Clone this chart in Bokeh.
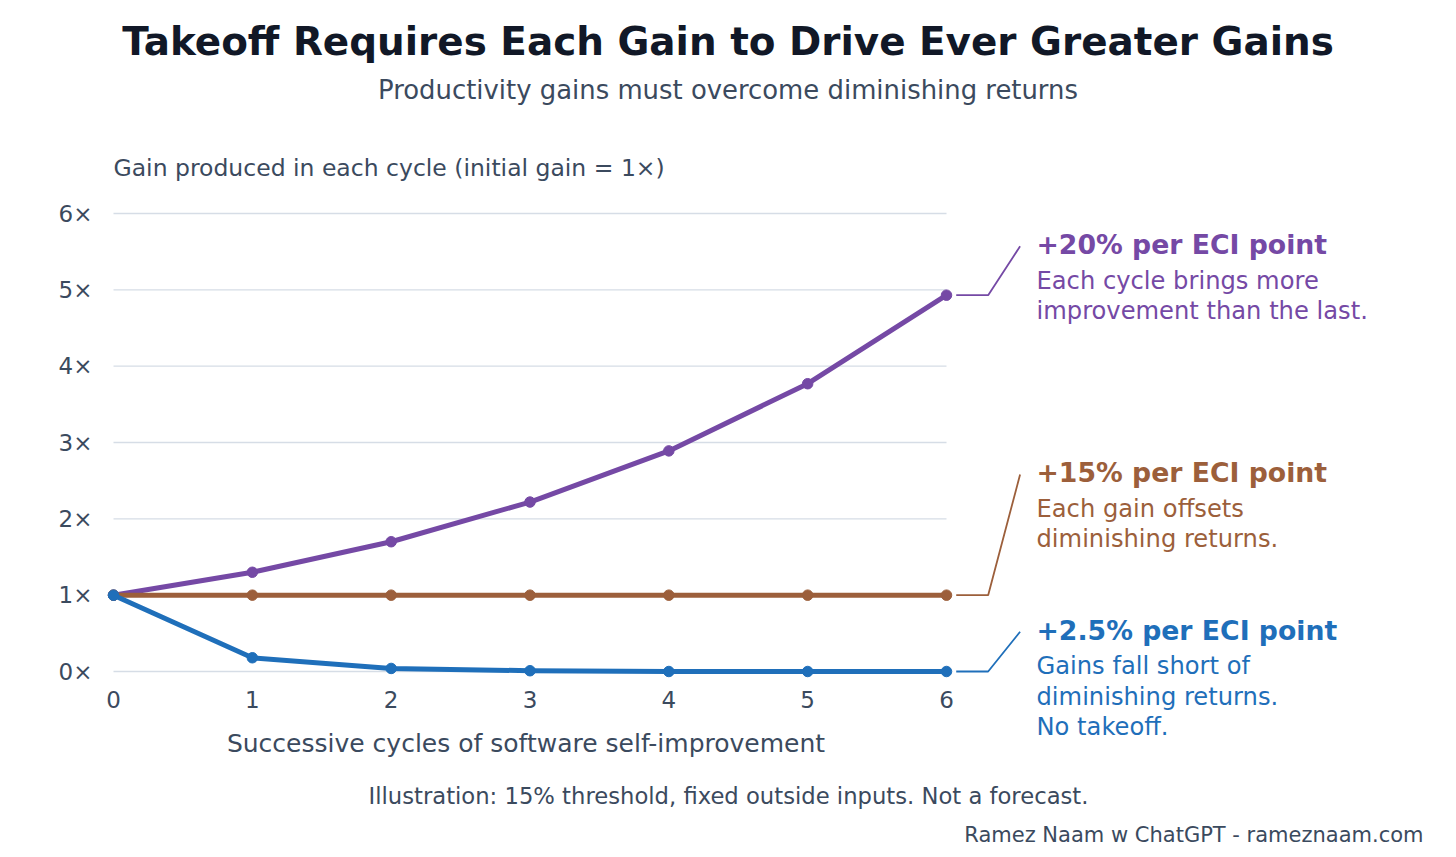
from bokeh.plotting import figure
from bokeh.models import Range1d, FixedTicker, Label, CustomJSTickFormatter
from bokeh.embed import file_html
from bokeh.resources import INLINE

# ---- data ----
cycles = [0, 1, 2, 3, 4, 5, 6]
gain_20 = [1.0, 1.30, 1.70, 2.22, 2.89, 3.77, 4.93]
gain_15 = [1.0, 1.0, 1.0, 1.0, 1.0, 1.0, 1.0]
gain_25 = [1.0, 0.18, 0.04, 0.01, 0.0, 0.0, 0.0]
y_ticks = [0, 1, 2, 3, 4, 5, 6]
x_ticks = [0, 1, 2, 3, 4, 5, 6]

title_text = "Takeoff Requires Each Gain to Drive Ever Greater Gains"
subtitle_text = "Productivity gains must overcome diminishing returns"
ylabel_text = "Gain produced in each cycle (initial gain = 1×)"
xlabel_text = "Successive cycles of software self-improvement"
note_text = "Illustration: 15% threshold, fixed outside inputs. Not a forecast."
credit_text = "Ramez Naam w ChatGPT - rameznaam.com"

series_names = ["+20% per ECI point", "+15% per ECI point", "+2.5% per ECI point"]
series_notes = [
    ["Each cycle brings more", "improvement than the last."],
    ["Each gain offsets", "diminishing returns."],
    ["Gains fall short of", "diminishing returns.", "No takeoff."],
]
series_values = [gain_20, gain_15, gain_25]
series_colors = ["#7549A5", "#9C5F3B", "#1F6FBA"]
label_y = [5.57, 2.58, 0.52]   # where each leader line ends (data units)

FONT = "DejaVu Sans"
TXT = "#3b4a5e"

W, H = 1456, 857
# pixel mapping: x=0 -> 113px, y=0 -> 671px from top
PX_X = 833 / 6
PX_Y = 458 / 6
x0_px, y0_px = 113, 671
SHIFT = 0.36  # baseline correction, fraction of font size

p = figure(width=W, height=H, output_backend="svg", toolbar_location=None,
           x_range=Range1d(-x0_px / PX_X, (W - x0_px) / PX_X),
           y_range=Range1d(-(H - y0_px) / PX_Y, y0_px / PX_Y),
           min_border=0, min_border_left=0, min_border_right=0,
           min_border_top=0, min_border_bottom=0)
p.outline_line_color = None
p.background_fill_color = "white"
p.border_fill_color = "white"
p.xgrid.visible = False
p.ygrid.visible = False

# axes
for ax in (p.xaxis[0], p.yaxis[0]):
    ax.axis_line_color = None
    ax.major_tick_line_color = None
    ax.minor_tick_line_color = None
    ax.major_tick_out = 0
    ax.major_tick_in = 0
    ax.major_label_text_font = FONT
    ax.major_label_text_font_size = "23px"
    ax.major_label_text_color = TXT
    ax.fixed_location = 0

p.xaxis.ticker = FixedTicker(ticks=x_ticks)
p.yaxis.ticker = FixedTicker(ticks=y_ticks)
p.yaxis.formatter = CustomJSTickFormatter(code="return tick.toFixed(0) + '×'")
p.xaxis.major_label_standoff = 19
p.yaxis.major_label_standoff = 21

# custom gridlines spanning data range only
p.segment(x0=[min(cycles)] * len(y_ticks), x1=[max(cycles)] * len(y_ticks),
          y0=y_ticks, y1=y_ticks, line_color="#d6dde6", line_width=1.3)

# series
for vals, col in zip(series_values, series_colors):
    p.line(cycles, vals, line_color=col, line_width=5, line_join="round")
    p.scatter(cycles, vals, size=10.5, fill_color=col, line_color=col)


def add_text(txt, x, base, size, color, align="left", style="normal"):
    base = base - SHIFT * size
    p.add_layout(Label(x=x, y=H - base, x_units="screen", y_units="screen",
                       text=txt, text_font=FONT, text_font_size=f"{size}px", text_font_style=style,
                       text_color=color, text_align=align, text_baseline="alphabetic"))


# leader lines + annotations
lx0, lx1, lx2 = 6.07, 6.30, 6.53
text_x_px = 1036
for name, notes, vals, col, ly in zip(series_names, series_notes, series_values, series_colors, label_y):
    p.line([lx0, lx1, lx2], [vals[-1], vals[-1], ly], line_color=col, line_width=1.8)
    head_base = y0_px - ly * PX_Y + 8
    add_text(name, text_x_px, head_base, 26.7, col, style="bold")
    for i, line in enumerate(notes):
        add_text(line, text_x_px, head_base + 35 + 30.5 * i, 24.2, col)

add_text(title_text, 727.5, 55, 38.9, "#111827", align="center", style="bold")
add_text(subtitle_text, 727.5, 99, 25.9, TXT, align="center")
add_text(ylabel_text, 113, 176, 23.5, TXT)
add_text(xlabel_text, x0_px + 3 * PX_X - 4, 752, 25, TXT, align="center")
add_text(note_text, 728, 804, 22.7, TXT, align="center")
add_text(credit_text, 1423, 842, 21, TXT, align="right")

open("out.html", "w").write(file_html(p, INLINE))
